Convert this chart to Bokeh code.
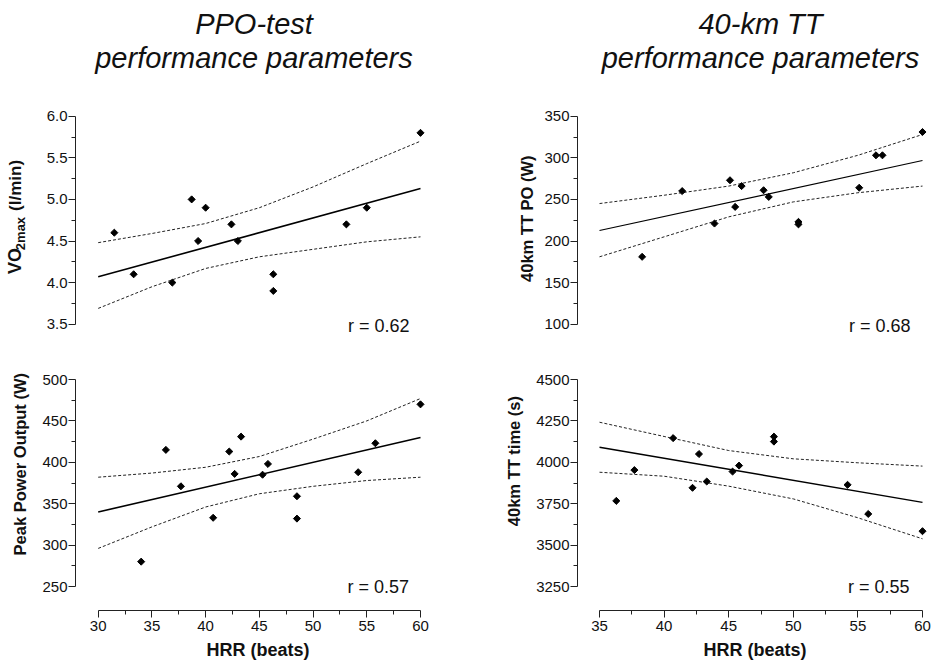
import math
from bokeh.plotting import figure
from bokeh.layouts import column, row
from bokeh.models import FixedTicker, BasicTickFormatter, PrintfTickFormatter, Label, Range1d
from bokeh.embed import file_html
from bokeh.resources import INLINE

# ---------------- data ----------------
# Panel A: VO2max vs HRR
hrr_a = [31.5, 33.3, 36.9, 38.7, 39.3, 40.0, 42.4, 43.0, 46.3, 46.3, 53.1, 55.0, 60.0]
vo2max = [4.6, 4.1, 4.0, 5.0, 4.5, 4.9, 4.7, 4.5, 4.1, 3.9, 4.7, 4.9, 5.8]
fit_a_x = [30, 60]
fit_a_y = [4.07, 5.13]
band_a_x = [30, 35, 40, 45, 50, 55, 60]
band_a_up = [4.48, 4.59, 4.71, 4.90, 5.15, 5.43, 5.70]
band_a_lo = [3.69, 3.95, 4.17, 4.31, 4.40, 4.49, 4.55]

# Panel B: 40km TT PO vs HRR
hrr_b = [38.3, 41.4, 43.9, 45.1, 45.5, 46.0, 47.7, 48.1, 50.4, 50.4, 55.1, 56.4, 56.9, 60.0]
tt_po = [181, 260, 221, 273, 241, 266, 261, 253, 223, 220, 264, 303, 303, 331]
fit_b_x = [35, 60]
fit_b_y = [212.6, 296.8]
band_b_x = [35, 40, 45, 50, 55, 60]
band_b_up = [245, 255, 266, 282, 303, 328]
band_b_lo = [181, 205, 229, 247, 258, 266]

# Panel C: Peak Power Output vs HRR
hrr_c = [34.0, 36.3, 37.7, 40.7, 42.2, 42.7, 43.3, 45.3, 45.8, 48.5, 48.5, 54.2, 55.8, 60.0]
ppo = [280, 415, 371, 333, 413, 386, 431, 385, 398, 359, 332, 388, 423, 470]
fit_c_x = [30, 60]
fit_c_y = [340, 430]
band_c_x = [30, 35, 40, 45, 50, 55, 60]
band_c_up = [382, 387, 394, 407, 428, 450, 477]
band_c_lo = [296, 322, 346, 362, 371, 378, 382]

# Panel D: 40km TT time vs HRR
hrr_d = [36.3, 37.7, 40.7, 42.2, 42.7, 43.3, 45.3, 45.8, 48.5, 48.5, 54.2, 55.8, 60.0]
tt_time = [3767, 3953, 4146, 3846, 4050, 3884, 3944, 3980, 4155, 4125, 3864, 3688, 3584]
fit_d_x = [35, 60]
fit_d_y = [4091, 3758]
band_d_x = [35, 40, 45, 50, 55, 60]
band_d_up = [4242, 4156, 4071, 4021, 3997, 3977]
band_d_lo = [3940, 3916, 3856, 3779, 3665, 3538]

r_texts = ["r = 0.62", "r = 0.68", "r = 0.57", "r = 0.55"]
titles_left = ["PPO-test", "performance parameters"]
titles_right = ["40-km TT", "performance parameters"]
ylab_a = ["VO", "2max", "(l/min)"]
ylab_b = "40km TT PO (W)"
ylab_c = "Peak Power Output (W)"
ylab_d = "40km TT time (s)"
xlab = "HRR (beats)"

ticks_a = [3.5, 4.0, 4.5, 5.0, 5.5, 6.0]
minor_a = [3.75, 4.25, 4.75, 5.25, 5.75]
ticks_b = [100, 150, 200, 250, 300, 350]
minor_b = [125, 175, 225, 275, 325]
ticks_c = [250, 300, 350, 400, 450, 500]
minor_c = [275, 325, 375, 425, 475]
ticks_d = [3250, 3500, 3750, 4000, 4250, 4500]
minor_d = [3375, 3625, 3875, 4125, 4375]
xticks_l = [30, 35, 40, 45, 50, 55, 60]
xminor_l = [32.5, 37.5, 42.5, 47.5, 52.5, 57.5]
xticks_r = [35, 40, 45, 50, 55, 60]
xminor_r = [37.5, 42.5, 47.5, 52.5, 57.5]

FONT = "Liberation Sans"
INK = "#111111"


def clean(p):
    p.xgrid.visible = False
    p.ygrid.visible = False
    p.outline_line_color = None
    p.background_fill_color = "white"
    p.border_fill_color = "white"


def strip(x0, y0, w, h):
    # text-only figure whose frame covers the whole figure, in page pixel coords
    f = figure(width=w, height=h, x_range=Range1d(x0, x0 + w), y_range=Range1d(y0 + h, y0),
               min_border_left=0, min_border_right=0, min_border_top=0, min_border_bottom=0,
               x_axis_location=None, y_axis_location=None,
               toolbar_location=None, output_backend="svg")
    clean(f)
    return f


def make_panel(fig_left, fig_top, W, H, fl, ft, fw, fh, xa, xa_px, sx, ya, ya_px, sy, has_x):
    x0 = xa - (xa_px - fl) / sx
    x1 = x0 + fw / sx
    y1 = ya + (ya_px - ft) / sy
    y0 = y1 - fh / sy
    p = figure(width=W, height=H, x_range=Range1d(x0, x1), y_range=Range1d(y0, y1),
               min_border_left=fl - fig_left, min_border_right=W - (fl - fig_left) - fw,
               min_border_top=ft - fig_top, min_border_bottom=H - (ft - fig_top) - fh,
               x_axis_location="below" if has_x else None,
               toolbar_location=None, output_backend="svg")
    clean(p)

    def X(px):
        return x0 + (px - fl) / sx

    def Y(py):
        return y1 - (py - ft) / sy
    return p, X, Y


def style_axis(ax, ticks, minor, bounds, formatter, standoff):
    ax.ticker = FixedTicker(ticks=ticks, minor_ticks=minor)
    ax.formatter = formatter
    ax.bounds = bounds
    ax.axis_line_color = "#222222"
    ax.axis_line_width = 1
    ax.major_tick_out = 7
    ax.major_tick_in = 0
    ax.minor_tick_out = 4
    ax.minor_tick_in = 0
    ax.major_tick_line_color = "#222222"
    ax.minor_tick_line_color = "#222222"
    ax.major_label_text_font = FONT
    ax.major_label_text_font_size = "15px"
    ax.major_label_text_color = INK
    ax.major_label_standoff = standoff


def xlabel(ax):
    ax.axis_label = xlab
    ax.axis_label_text_font = FONT
    ax.axis_label_text_font_size = "18px"
    ax.axis_label_text_font_style = "bold"
    ax.axis_label_text_color = INK
    ax.axis_label_standoff = 6


def draw(p, x, y, fx, fy, bx, bu, bl, lw):
    p.line(bx, bu, line_color="#222222", line_width=1, line_dash="3 2")
    p.line(bx, bl, line_color="#222222", line_width=1, line_dash="3 2")
    p.line(fx, fy, line_color="black", line_width=lw)
    p.scatter(x, y, marker="square", angle=math.pi / 4, size=5, color="black")


def lab(p, x, y, text, size, style="normal", angle=0.0, align="left", baseline="alphabetic"):
    p.add_layout(Label(x=x, y=y, text=text, text_font=FONT, text_font_size=size,
                       text_font_style=style, angle=angle, text_align=align,
                       text_baseline=baseline, text_color=INK))


UP = math.pi / 2

# ---------------- title strip ----------------
tS = strip(0, 0, 932, 82)
lab(tS, 253.5, 23, titles_left[0], "29px", "italic", align="center")
lab(tS, 253.5, 57, titles_left[1], "29px", "italic", align="center")
lab(tS, 760, 23, titles_right[0], "29px", "italic", align="center")
lab(tS, 760, 57, titles_right[1], "29px", "italic", align="center")

# ---------------- panel A ----------------
yA = strip(0, 82, 35, 263)
lab(yA, 14.6, 272, ylab_a[0], "18px", "bold", angle=UP)
lab(yA, 20.0, 246, ylab_a[1], "13px", "bold", angle=UP)
lab(yA, 15.0, 203, ylab_a[2], "17px", "bold", angle=UP)
pA, XA, YA = make_panel(35, 82, 431, 263, 75, 100, 355, 240, 30, 97.7, 10.743, 6.0, 115.7, 83.2, False)
style_axis(pA.yaxis[0], ticks_a, minor_a, (3.5, 6.0), PrintfTickFormatter(format="%.1f"), 1)
draw(pA, hrr_a, vo2max, fit_a_x, fit_a_y, band_a_x, band_a_up, band_a_lo, 1.6)
lab(pA, XA(409), YA(325), r_texts[0], "18px", align="right", baseline="middle")

# ---------------- panel B ----------------
yB = strip(466, 82, 72, 263)
lab(yB, 526, 211.5, ylab_b, "16.5px", "bold", angle=UP, align="center")
pB, XB, YB = make_panel(538, 82, 394, 263, 577, 100, 355, 240, 35, 599, 12.92, 350, 115.7, 0.832, False)
style_axis(pB.yaxis[0], ticks_b, minor_b, (100, 350), BasicTickFormatter(), 1)
draw(pB, hrr_b, tt_po, fit_b_x, fit_b_y, band_b_x, band_b_up, band_b_lo, 1.2)
lab(pB, XB(910), YB(325), r_texts[1], "18px", align="right", baseline="middle")

# ---------------- panel C ----------------
yC = strip(0, 345, 35, 323)
lab(yC, 19.5, 479, ylab_c, "16.5px", "bold", angle=UP, align="center")
pC, XC, YC = make_panel(35, 345, 431, 323, 75, 360, 365, 250, 30, 97.7, 10.743, 500, 379, 0.828, True)
style_axis(pC.yaxis[0], ticks_c, minor_c, (250, 500), BasicTickFormatter(), 1)
style_axis(pC.xaxis[0], xticks_l, xminor_l, (30, 60), BasicTickFormatter(), 3)
xlabel(pC.xaxis[0])
draw(pC, hrr_c, ppo, fit_c_x, fit_c_y, band_c_x, band_c_up, band_c_lo, 1.6)
lab(pC, XC(408.5), YC(586), r_texts[2], "18px", align="right", baseline="middle")

# ---------------- panel D ----------------
yD = strip(466, 345, 62, 323)
lab(yD, 513.7, 475, ylab_d, "16.5px", "bold", angle=UP, align="center")
pD, XD, YD = make_panel(528, 345, 404, 323, 577, 360, 355, 250, 35, 599, 12.92, 4500, 379, 0.1656, True)
style_axis(pD.yaxis[0], ticks_d, minor_d, (3250, 4500), BasicTickFormatter(), 1)
style_axis(pD.xaxis[0], xticks_r, xminor_r, (35, 60), BasicTickFormatter(), 3)
xlabel(pD.xaxis[0])
draw(pD, hrr_d, tt_time, fit_d_x, fit_d_y, band_d_x, band_d_up, band_d_lo, 1.5)
lab(pD, XD(909), YD(586), r_texts[3], "18px", align="right", baseline="middle")

layout = column(
    tS,
    row(yA, pA, yB, pB, spacing=0),
    row(yC, pC, yD, pD, spacing=0),
    spacing=0,
)
open("out.html", "w").write(file_html(layout, INLINE))
